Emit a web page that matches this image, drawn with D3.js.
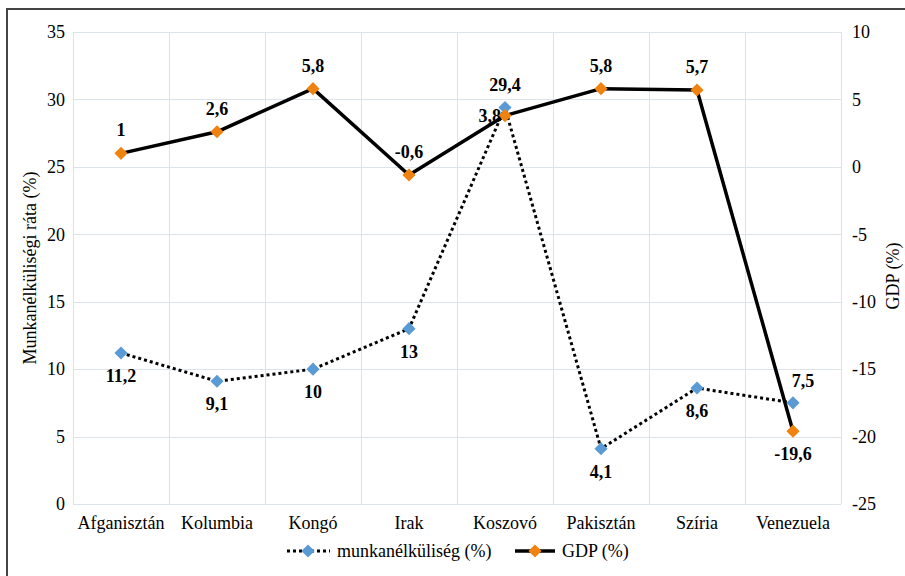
<!DOCTYPE html>
<html>
<head>
<meta charset="utf-8">
<script src="https://cdn.jsdelivr.net/npm/d3@7"></script>
<style>
  body { margin: 0; background: #fff; }
  svg { display: block; }
  svg text { font-family: "Liberation Serif", "Times New Roman", serif; fill: #000; }
  .tick text { font-size: 18px; }
  .domain { display: none; }
</style>
</head>
<body>
<script>
// adatok
var categories = ["Afganisztán", "Kolumbia", "Kongó", "Irak", "Koszovó", "Pakisztán", "Szíria", "Venezuela"];
var unemployment = [11.2, 9.1, 10, 13, 29.4, 4.1, 8.6, 7.5];
var gdp = [1, 2.6, 5.8, -0.6, 3.8, 5.8, 5.7, -19.6];
var leftTicks = [0, 5, 10, 15, 20, 25, 30, 35];
var rightTicks = [-25, -20, -15, -10, -5, 0, 5, 10];
// címkék helye
var unempLabelPos = ["below", "below", "below", "below", "above", "below", "below", "aboveRight"];
var gdpLabelPos = ["above", "above", "above", "above", "left", "above", "above", "below"];

var W = 905, H = 576;
var plot = {left: 73, right: 841, top: 32, bottom: 504};
var serif = '"Liberation Serif", "Times New Roman", serif';

var svg = d3.select("body").append("svg")
    .attr("width", W)
    .attr("height", H);

// keret
svg.append("rect")
    .attr("x", 7).attr("y", 9)
    .attr("width", W + 20).attr("height", H + 20)
    .attr("fill", "none")
    .attr("stroke", "#444")
    .attr("stroke-width", 2);

// cím (a kép tetején levágva)
svg.append("text")
    .attr("x", 680).attr("y", -4)
    .attr("text-anchor", "end")
    .style("font-size", "18px")
    .style("font-weight", "bold")
    .text("Munkanélküliség és gazdasági jellemzők (2020)");

var xScale = d3.scaleBand().domain(categories).range([plot.left, plot.right]);
var yLeft = d3.scaleLinear().domain([0, 35]).range([plot.bottom, plot.top]);
var yRight = d3.scaleLinear().domain([-25, 10]).range([plot.bottom, plot.top]);

var fmt = function(v) { return String(v).replace(".", ","); };

// rácsvonalak
var grid = svg.append("g").attr("stroke", "#dde3ea").attr("stroke-width", 1);
leftTicks.forEach(function(t) {
  grid.append("line")
    .attr("x1", plot.left).attr("x2", plot.right)
    .attr("y1", Math.round(yLeft(t)) + 0.5).attr("y2", Math.round(yLeft(t)) + 0.5);
});
var edges = categories.map(function(c) { return xScale(c); }).concat([plot.right]);
edges.forEach(function(e) {
  grid.append("line")
    .attr("x1", Math.round(e) + 0.5).attr("x2", Math.round(e) + 0.5)
    .attr("y1", plot.top).attr("y2", plot.bottom);
});

// tengelyek
var axL = svg.append("g")
    .attr("transform", "translate(" + (plot.left - 4) + ",0)")
    .call(d3.axisLeft(yLeft).tickValues(leftTicks).tickSize(0).tickPadding(4).tickFormat(fmt));

var axR = svg.append("g")
    .attr("transform", "translate(" + (plot.right + 9) + ",0)")
    .call(d3.axisRight(yRight).tickValues(rightTicks).tickSize(0).tickPadding(2).tickFormat(fmt));

var axB = svg.append("g")
    .attr("transform", "translate(0," + (plot.bottom + 4) + ")")
    .call(d3.axisBottom(xScale).tickSize(0).tickPadding(8));

[axL, axR, axB].forEach(function(a) {
  a.attr("font-family", null).attr("font-size", null);
  a.selectAll("text").style("font-family", serif).style("font-size", "18px");
});

// tengelycímek
svg.append("text")
    .attr("transform", "translate(36," + ((plot.top + plot.bottom) / 2) + ") rotate(-90)")
    .attr("text-anchor", "middle")
    .style("font-size", "18px")
    .text("Munkanélküliségi ráta (%)");

svg.append("text")
    .attr("transform", "translate(899," + ((plot.top + plot.bottom) / 2 + 8) + ") rotate(-90)")
    .attr("text-anchor", "middle")
    .style("font-size", "18px")
    .text("GDP (%)");

var cx = function(i) { return xScale(categories[i]) + xScale.bandwidth() / 2; };
var diamond = d3.symbol().type(d3.symbolDiamond2).size(110);

// munkanélküliség
var unempLine = d3.line()
    .x(function(d, i) { return cx(i); })
    .y(function(d) { return yLeft(d); });

svg.append("path")
    .attr("d", unempLine(unemployment))
    .attr("fill", "none")
    .attr("stroke", "#000")
    .attr("stroke-width", 3)
    .attr("stroke-dasharray", "3,3");

// GDP
var gdpLine = d3.line()
    .x(function(d, i) { return cx(i); })
    .y(function(d) { return yRight(d); });

svg.append("path")
    .attr("d", gdpLine(gdp))
    .attr("fill", "none")
    .attr("stroke", "#000")
    .attr("stroke-width", 3.5)
    .attr("stroke-linejoin", "round");

svg.selectAll(".pt-u")
    .data(unemployment)
  .enter().append("path")
    .attr("class", "pt-u")
    .attr("d", diamond)
    .attr("transform", function(d, i) { return "translate(" + cx(i) + "," + yLeft(d) + ")"; })
    .attr("fill", "#5b9bd5");

svg.selectAll(".pt-g")
    .data(gdp)
  .enter().append("path")
    .attr("class", "pt-g")
    .attr("d", diamond)
    .attr("transform", function(d, i) { return "translate(" + cx(i) + "," + yRight(d) + ")"; })
    .attr("fill", "#f0820f");

// adatcímkék
function placeLabel(pos, x, y) {
  if (pos == "above") return [x, y - 17, "middle"];
  if (pos == "below") return [x, y + 29, "middle"];
  if (pos == "aboveRight") return [x + 10, y - 16, "middle"];
  if (pos == "left") return [x - 4, y + 6, "end"];
  return [x, y, "middle"];
}

function addLabels(values, positions, scale) {
  values.forEach(function(v, i) {
    var p = placeLabel(positions[i], cx(i), scale(v));
    svg.append("text")
      .attr("x", p[0]).attr("y", p[1])
      .attr("text-anchor", p[2])
      .style("font-size", "18px")
      .style("font-weight", "bold")
      .text(fmt(v));
  });
}
addLabels(unemployment, unempLabelPos, yLeft);
addLabels(gdp, gdpLabelPos, yRight);

// jelmagyarázat
var legend = svg.append("g").attr("transform", "translate(0,551)");
legend.append("line")
    .attr("x1", 287).attr("x2", 330).attr("y1", 0).attr("y2", 0)
    .attr("stroke", "#000").attr("stroke-width", 3).attr("stroke-dasharray", "3,3");
legend.append("path").attr("d", diamond).attr("transform", "translate(308,0)").attr("fill", "#5b9bd5");
legend.append("text").attr("x", 337).attr("y", 6).style("font-size", "18px").text("munkanélküliség (%)");

legend.append("line")
    .attr("x1", 515).attr("x2", 555).attr("y1", 0).attr("y2", 0)
    .attr("stroke", "#000").attr("stroke-width", 3.5);
legend.append("path").attr("d", diamond).attr("transform", "translate(535,0)").attr("fill", "#f0820f");
legend.append("text").attr("x", 562).attr("y", 6).style("font-size", "18px").text("GDP (%)");
</script>
</body>
</html>
